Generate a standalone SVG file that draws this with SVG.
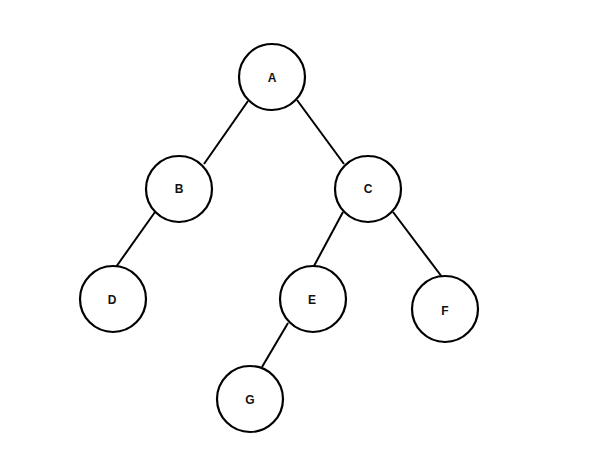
<svg xmlns="http://www.w3.org/2000/svg" width="609" height="456" viewBox="0 0 609 456">
<style>
.n{fill:#fff;stroke:#000;stroke-width:2.2}
.t{font-family:"Liberation Sans",Arial,sans-serif;font-size:12px;font-weight:bold;fill:#111;text-anchor:middle;dominant-baseline:central}
.e{stroke:#000;stroke-width:2;fill:none}
</style>
<rect width="609" height="456" fill="#fff"/>
<g id="edges">
<line class="e" x1="248" y1="101" x2="204" y2="164"/>
<line class="e" x1="297" y1="100" x2="344" y2="164"/>
<line class="e" x1="155" y1="212" x2="116" y2="267"/>
<line class="e" x1="343" y1="212" x2="314" y2="266"/>
<line class="e" x1="393" y1="212" x2="442" y2="277"/>
<line class="e" x1="288" y1="323" x2="262" y2="367"/>
</g>
<g id="A"><circle class="n" cx="272" cy="77" r="33"/><text class="t" x="272" y="78">A</text></g>
<g id="B"><circle class="n" cx="179" cy="189" r="33"/><text class="t" x="179" y="189">B</text></g>
<g id="C"><circle class="n" cx="368" cy="189" r="33"/><text class="t" x="368" y="189">C</text></g>
<g id="D"><circle class="n" cx="113" cy="299" r="33"/><text class="t" x="112" y="300">D</text></g>
<g id="E"><circle class="n" cx="313" cy="299" r="33"/><text class="t" x="312" y="300">E</text></g>
<g id="F"><circle class="n" cx="445" cy="309" r="33"/><text class="t" x="445" y="311">F</text></g>
<g id="G"><circle class="n" cx="250" cy="399" r="33"/><text class="t" x="250" y="400">G</text></g>
</svg>
